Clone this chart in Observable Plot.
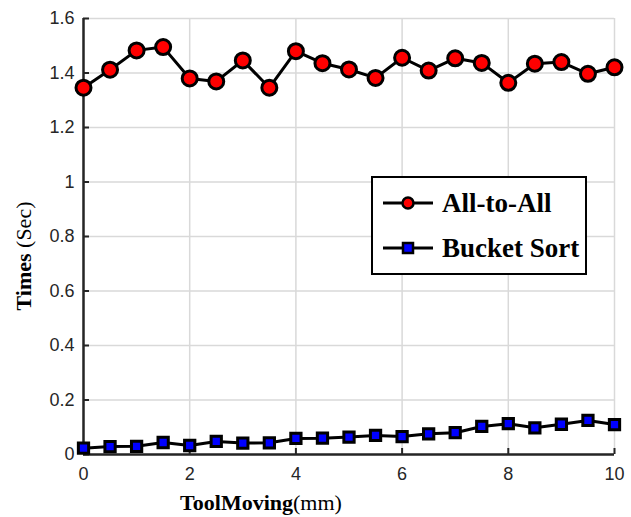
<!DOCTYPE html>
<html><head><meta charset="utf-8">
<script src="https://cdn.jsdelivr.net/npm/d3@7"></script>
<script src="https://cdn.jsdelivr.net/npm/@observablehq/plot@0.6"></script>
<style>
body{margin:0;background:#fff}
#chart{position:relative;width:631px;height:517px}
</style>
</head><body><div id="chart"></div>
<script>
const toolMoving = [0,0.5,1,1.5,2,2.5,3,3.5,4,4.5,5,5.5,6,6.5,7,7.5,8,8.5,9,9.5,10];
const allToAll = [1.346,1.412,1.483,1.495,1.380,1.369,1.446,1.346,1.480,1.436,1.413,1.382,1.456,1.409,1.454,1.437,1.364,1.434,1.440,1.397,1.421];
const bucketSort = [0.023,0.029,0.030,0.044,0.033,0.048,0.042,0.043,0.059,0.060,0.064,0.070,0.066,0.076,0.080,0.103,0.113,0.098,0.111,0.125,0.110];
const xTicks = [0,2,4,6,8,10];
const xTickLabels = ["0","2","4","6","8","10"];
const yTicks = [0,0.2,0.4,0.6,0.8,1,1.2,1.4,1.6];
const yTickLabels = ["0","0.2","0.4","0.6","0.8","1","1.2","1.4","1.6"];
const seriesNames = ["All-to-All","Bucket Sort"];
const seriesFill = ["#ff0000","#0000ff"];
const seriesSymbol = ["circle","square"];

const rowsA = toolMoving.map((x,i)=>({x, y: allToAll[i]}));
const rowsB = toolMoving.map((x,i)=>({x, y: bucketSort[i]}));
const gridStyle = {stroke:"#d9d9d9", strokeOpacity:1, strokeWidth:1.5};
const axisColor = "#262626";

const plot = Plot.plot({
  width: 631, height: 517,
  marginLeft: 83, marginRight: 17, marginTop: 18, marginBottom: 63,
  style: {fontFamily: "'Liberation Sans', Arial, sans-serif", fontSize: "18px", color: axisColor, background: "#fff"},
  x: {domain: [0,10]},
  y: {domain: [0,1.6]},
  marks: [
    Plot.gridX(xTicks, gridStyle),
    Plot.gridY(yTicks, gridStyle),
    Plot.ruleX([0], {stroke: axisColor, strokeWidth: 2.5}),
    Plot.ruleY([0], {stroke: axisColor, strokeWidth: 2.5}),
    // inward tick marks
    Plot.axisX(xTicks, {tickSize: 6, dy: -6, tickFormat: () => "", label: null, stroke: axisColor, strokeWidth: 2}),
    Plot.axisY(yTicks, {tickSize: 6, dx: 6, tickFormat: () => "", label: null, stroke: axisColor, strokeWidth: 2}),
    // tick labels
    Plot.axisX(xTicks, {tickSize: 0, tickPadding: 13, tickFormat: (d)=>xTickLabels[xTicks.indexOf(d)], label: null}),
    Plot.axisY(yTicks, {tickSize: 0, tickPadding: 9, tickFormat: (d)=>yTickLabels[yTicks.indexOf(d)], label: null}),
    Plot.line(rowsA, {x:"x", y:"y", stroke:"#000", strokeWidth:3}),
    Plot.dot(rowsA, {x:"x", y:"y", r:7.5, fill:seriesFill[0], stroke:"#000", strokeWidth:3, symbol: seriesSymbol[0]}),
    Plot.line(rowsB, {x:"x", y:"y", stroke:"#000", strokeWidth:3}),
    Plot.dot(rowsB, {x:"x", y:"y", r:5.8, fill:seriesFill[1], stroke:"#000", strokeWidth:3, symbol: seriesSymbol[1]})
  ]
});
document.getElementById("chart").appendChild(plot);

const svg = d3.select(plot);
const serif = "'Liberation Serif', 'Times New Roman', serif";
// x label
const xl = svg.append("text").attr("x", 261).attr("y", 510).attr("text-anchor","middle")
  .attr("font-family", serif).attr("font-size", 22).attr("fill","#000");
xl.append("tspan").attr("font-weight","bold").text("ToolMoving");
xl.append("tspan").text("(mm)");
// y label
const yl = svg.append("text").attr("transform","translate(31,256) rotate(-90)").attr("text-anchor","middle")
  .attr("font-family", serif).attr("font-size", 22).attr("fill","#000");
yl.append("tspan").attr("font-weight","bold").text("Times");
yl.append("tspan").text(" (Sec)");

// legend
const lg = svg.append("g").attr("transform","translate(371,176)");
lg.append("rect").attr("x",1).attr("y",1).attr("width",214).attr("height",97)
  .attr("fill","#fff").attr("stroke","#000").attr("stroke-width",2);
const rowsY = [27, 72];
seriesNames.forEach((name,i)=>{
  const g = lg.append("g").attr("transform",`translate(0,${rowsY[i]})`);
  g.append("line").attr("x1",12).attr("x2",62).attr("y1",0).attr("y2",0).attr("stroke","#000").attr("stroke-width",3);
  if (seriesSymbol[i]==="circle") g.append("circle").attr("cx",37).attr("cy",0).attr("r",5.5).attr("fill",seriesFill[i]).attr("stroke","#000").attr("stroke-width",2.5);
  else g.append("rect").attr("x",32).attr("y",-5).attr("width",10).attr("height",10).attr("fill",seriesFill[i]).attr("stroke","#000").attr("stroke-width",2.5);
  g.append("text").attr("x",71).attr("y",9).attr("text-anchor","start").attr("font-family",serif).attr("font-weight","bold").attr("font-size",27).attr("fill","#000").text(name);
});
</script>
</body></html>
